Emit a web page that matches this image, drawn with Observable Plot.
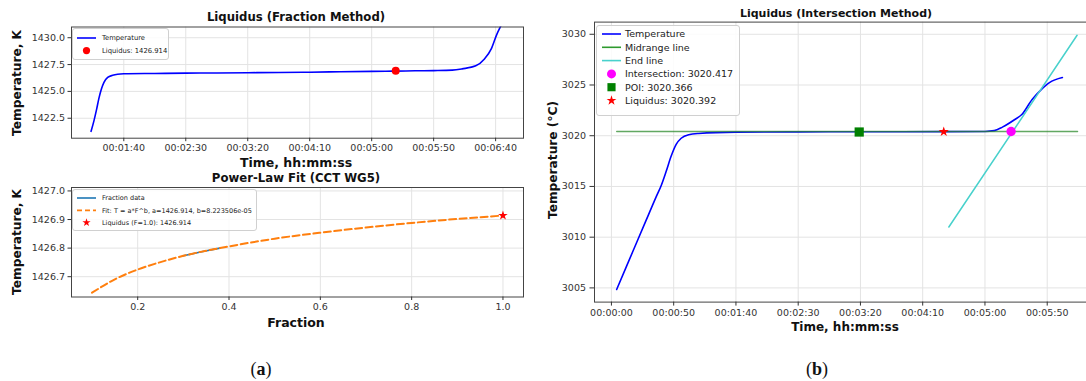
<!DOCTYPE html>
<html><head><meta charset="utf-8">
<script src="https://cdn.jsdelivr.net/npm/d3@7"></script>
<script src="https://cdn.jsdelivr.net/npm/@observablehq/plot@0.6"></script>
<style>
html,body{margin:0;padding:0;background:#fff;}
#wrap{position:relative;width:1086px;height:381px;overflow:hidden;font-family:"DejaVu Sans",sans-serif;color:#111;}
.abs{position:absolute;}
.title{font-weight:bold;white-space:nowrap;transform:translate(-50%,-50%);}
.xlab{font-weight:bold;white-space:nowrap;transform:translate(-50%,-50%);}
.ylab{font-weight:bold;white-space:nowrap;transform:translate(-50%,-50%) rotate(-90deg);}
.legend{background:rgba(255,255,255,0.85);border:1px solid #d0d0d0;border-radius:3px;box-sizing:border-box;}
.cap{font-family:"Liberation Serif","DejaVu Serif",serif;font-size:18px;transform:translate(-50%,-50%);}
.cap b{font-weight:bold;}
</style></head>
<body><div id="wrap"></div>
<script>
// ---------- Panel (a) top: Liquidus (Fraction Method) ----------
const a1Time = [73.6, 76, 78, 80, 82, 84, 87, 91, 95, 100, 125, 150, 175, 200, 225, 250, 275, 300, 319.4, 335, 350, 365, 373, 384, 391, 396.6, 400.8, 404.1, 406];
const a1Temp = [1421.28, 1422.3, 1423.3, 1424.4, 1425.25, 1425.85, 1426.3, 1426.5, 1426.6, 1426.64, 1426.67, 1426.7, 1426.72, 1426.74, 1426.76, 1426.79, 1426.83, 1426.87, 1426.89, 1426.92, 1426.94, 1426.98, 1427.1, 1427.38, 1428.02, 1428.98, 1430.27, 1431.07, 1431.5];
const a1LiqTime = [319.4];
const a1LiqTemp = [1426.914];
const a1XTicks = [100, 150, 200, 250, 300, 350, 400];
const a1YTicks = [1422.5, 1425.0, 1427.5, 1430.0];

// ---------- Panel (a) bottom: Power-Law Fit (CCT WG5) ----------
const a2DataFrac = [0.30, 0.34, 0.38];
const a2DataTemp = [1426.773, 1426.787, 1426.800];
const a2FitFrac = [0.10, 0.15, 0.20, 0.25, 0.30, 0.35, 0.40, 0.50, 0.60, 0.70, 0.80, 0.90, 1.00];
const a2FitTemp = [1426.644, 1426.691, 1426.725, 1426.751, 1426.773, 1426.791, 1426.806, 1426.833, 1426.854, 1426.872, 1426.888, 1426.902, 1426.914];
const a2LiqFrac = [1.0];
const a2LiqTemp = [1426.914];
const a2XTicks = [0.2, 0.4, 0.6, 0.8, 1.0];
const a2YTicks = [1426.7, 1426.8, 1426.9, 1427.0];

// ---------- Panel (b): Liquidus (Intersection Method) ----------
const bTime = [4.2, 12, 20, 28, 36, 40, 44, 48, 52, 56, 62, 70, 100, 150, 200, 267, 300, 307.5, 314, 324, 329.6, 337.9, 344.8, 351.8, 362.2];
const bTemp = [3004.84, 3007.1, 3009.4, 3011.7, 3014.0, 3015.1, 3016.5, 3018.0, 3019.15, 3019.75, 3020.1, 3020.22, 3020.35, 3020.38, 3020.39, 3020.40, 3020.42, 3020.5, 3020.85, 3021.6, 3022.09, 3023.58, 3024.5, 3025.23, 3025.73];
const bMidTime = [4.2, 374.4];
const bMidTemp = [3020.417, 3020.417];
const bEndTime = [271, 374];
const bEndTemp = [3011.0, 3029.9];
const bIntersect = {t: [321.0], T: [3020.417]};
const bPOI = {t: [199], T: [3020.366]};
const bLiq = {t: [266.9], T: [3020.392]};
const bXTicks = [0, 50, 100, 150, 200, 250, 300, 350];
const bYTicks = [3005, 3010, 3015, 3020, 3025, 3030];

const zip = (xs, ys) => xs.map((x, i) => ({x, y: ys[i]}));
const hms = s => { s = Math.round(s); const h = Math.floor(s / 3600), m = Math.floor((s % 3600) / 60), ss = s % 60; return [h, m, ss].map(v => String(v).padStart(2, "0")).join(":"); };

const wrap = document.getElementById("wrap");
function place(el, left, top) { el.style.position = "absolute"; el.style.left = left + "px"; el.style.top = top + "px"; wrap.appendChild(el); return el; }
function text(cls, str, x, y, size) { const d = document.createElement("div"); d.className = "abs " + cls; d.textContent = str; d.style.left = x + "px"; d.style.top = y + "px"; d.style.fontSize = size + "px"; wrap.appendChild(d); return d; }

const baseStyle = {fontFamily: "DejaVu Sans", fontSize: "9.5px", color: "#222", background: "transparent", overflow: "visible"};
const gridColor = "#e3e3e3";

// Panel a1
const a1 = Plot.plot({
  width: 540, height: 170, marginLeft: 71, marginRight: 17, marginTop: 26.5, marginBottom: 32.3,
  style: baseStyle,
  x: {domain: [57.8, 422.5]}, y: {domain: [1420.64, 1431.0]},
  marks: [
    Plot.gridX(a1XTicks, {stroke: gridColor, strokeOpacity: 1}),
    Plot.gridY(a1YTicks, {stroke: gridColor, strokeOpacity: 1}),
    Plot.line(zip(a1Time, a1Temp), {x: "x", y: "y", stroke: "#0000ff", strokeWidth: 1.6, curve: "monotone-x", clip: true}),
    Plot.dot(zip(a1LiqTime, a1LiqTemp), {x: "x", y: "y", r: 4, fill: "red", stroke: "none"}),
    Plot.frame({stroke: "#444"}),
    Plot.axisX(a1XTicks, {tickFormat: hms, tickSize: 3.5, tickPadding: 3, label: null, color: "#333"}),
    Plot.axisY(a1YTicks, {tickFormat: d3.format(".1f"), tickSize: 3.5, tickPadding: 3, label: null, color: "#333"})
  ]
});
place(a1, 0, 0);

// Panel a2
const a2 = Plot.plot({
  width: 540, height: 170, marginLeft: 71, marginRight: 17, marginTop: 22, marginBottom: 38.5,
  style: baseStyle,
  x: {domain: [0.055, 1.045]}, y: {domain: [1426.629, 1427.012]},
  marks: [
    Plot.gridX(a2XTicks, {stroke: gridColor, strokeOpacity: 1}),
    Plot.gridY(a2YTicks, {stroke: gridColor, strokeOpacity: 1}),
    Plot.line(zip(a2DataFrac, a2DataTemp), {x: "x", y: "y", stroke: "#1f77b4", strokeWidth: 1.6, clip: true}),
    Plot.line(zip(a2FitFrac, a2FitTemp), {x: "x", y: "y", stroke: "#ff7f0e", strokeWidth: 2, strokeDasharray: "7,3.5", curve: "monotone-x", clip: true}),
    Plot.dot(zip(a2LiqFrac, a2LiqTemp), {x: "x", y: "y", symbol: "star", r: 3.0, fill: "red", stroke: "none"}),
    Plot.frame({stroke: "#444"}),
    Plot.axisX(a2XTicks, {tickFormat: d3.format(".1f"), tickSize: 3.5, tickPadding: 3, label: null, color: "#333"}),
    Plot.axisY(a2YTicks, {tickFormat: d3.format(".1f"), tickSize: 3.5, tickPadding: 3, label: null, color: "#333"})
  ]
});
place(a2, 0, 165);

// Panel b
const b = Plot.plot({
  width: 570, height: 340, marginLeft: 54, marginRight: 11, marginTop: 21.6, marginBottom: 38.4,
  style: baseStyle,
  x: {domain: [-13.6, 392]}, y: {domain: [3003.6, 3031.2]},
  marks: [
    Plot.gridX(bXTicks, {stroke: gridColor, strokeOpacity: 1}),
    Plot.gridY(bYTicks, {stroke: gridColor, strokeOpacity: 1}),
    Plot.line(zip(bTime, bTemp), {x: "x", y: "y", stroke: "#0000ff", strokeWidth: 1.6, curve: "monotone-x", clip: true}),
    Plot.line(zip(bMidTime, bMidTemp), {x: "x", y: "y", stroke: "#2e8b2e", strokeWidth: 1.3, strokeOpacity: 0.75}),
    Plot.line(zip(bEndTime, bEndTemp), {x: "x", y: "y", stroke: "#48d1cc", strokeWidth: 1.5}),
    Plot.dot(zip(bIntersect.t, bIntersect.T), {x: "x", y: "y", r: 4.7, fill: "#ff00ff", stroke: "none"}),
    Plot.dot(zip(bPOI.t, bPOI.T), {x: "x", y: "y", symbol: "square", r: 5.2, fill: "#008000", stroke: "none"}),
    Plot.dot(zip(bLiq.t, bLiq.T), {x: "x", y: "y", symbol: "star", r: 3.2, fill: "red", stroke: "none"}),
    Plot.frame({stroke: "#444"}),
    Plot.axisX(bXTicks, {tickFormat: hms, tickSize: 4, tickPadding: 3, label: null, color: "#333"}),
    Plot.axisY(bYTicks, {tickFormat: d3.format("d"), tickSize: 4.5, tickPadding: 4, label: null, color: "#333"})
  ]
});
place(b, 540, 0);

// Titles and axis labels
text("title", "Liquidus (Fraction Method)", 296, 17, 11.7);
text("ylab", "Temperature, K", 17, 83, 12.2);
text("xlab", "Time, hh:mm:ss", 296, 162, 12.5);
text("title", "Power-Law Fit (CCT WG5)", 296, 178, 11.7);
text("ylab", "Temperature, K", 17, 242, 12.2);
text("xlab", "Fraction", 296, 322, 12.5);
text("title", "Liquidus (Intersection Method)", 836, 13, 11);
text("ylab", "Temperature (°C)", 553, 160, 12.2);
text("xlab", "Time, hh:mm:ss", 845, 327, 12);

// Legends (HTML)
function legend(left, top, w, h, items, fontSize, rowH, firstY, swX, swW, txtX) {
  const box = document.createElement("div");
  box.className = "abs legend";
  Object.assign(box.style, {left: left + "px", top: top + "px", width: w + "px", height: h + "px"});
  wrap.appendChild(box);
  const ns = "http://www.w3.org/2000/svg";
  const svg = document.createElementNS(ns, "svg");
  svg.setAttribute("width", w); svg.setAttribute("height", h);
  svg.style.position = "absolute"; svg.style.left = "0"; svg.style.top = "0";
  box.appendChild(svg);
  items.forEach((it, i) => {
    const cy = firstY + i * rowH;
    if (it.kind === "line") {
      const l = document.createElementNS(ns, "line");
      l.setAttribute("x1", swX); l.setAttribute("x2", swX + swW); l.setAttribute("y1", cy); l.setAttribute("y2", cy);
      l.setAttribute("stroke", it.color); l.setAttribute("stroke-width", it.width || 1.6);
      if (it.dash) l.setAttribute("stroke-dasharray", it.dash);
      svg.appendChild(l);
    } else {
      const p = document.createElementNS(ns, "path");
      const sym = it.kind === "star" ? d3.symbolStar : it.kind === "square" ? d3.symbolSquare : d3.symbolCircle;
      p.setAttribute("d", d3.symbol(sym, Math.PI * it.r * it.r)());
      p.setAttribute("transform", `translate(${swX + swW / 2},${cy})`);
      p.setAttribute("fill", it.color);
      svg.appendChild(p);
    }
    const t = document.createElementNS(ns, "text");
    t.setAttribute("x", txtX); t.setAttribute("y", cy); t.setAttribute("dy", "0.35em");
    t.setAttribute("font-size", fontSize); t.setAttribute("font-family", "DejaVu Sans"); t.setAttribute("fill", "#222");
    t.textContent = it.label;
    svg.appendChild(t);
  });
}
legend(72, 28, 97, 32, [
  {kind: "line", color: "#0000ff", label: "Temperature"},
  {kind: "dot", color: "red", r: 3.6, label: "Liquidus: 1426.914"}
], 6.8, 12.6, 9, 4, 19, 29);
legend(71.5, 188.5, 185, 42, [
  {kind: "line", color: "#1f77b4", label: "Fraction data"},
  {kind: "line", color: "#ff7f0e", width: 1.8, dash: "5,3", label: "Fit: T = a*F^b, a=1426.914, b=8.223506e-05"},
  {kind: "star", color: "red", r: 2.6, label: "Liquidus (F=1.0): 1426.914"}
], 6.5, 12.3, 8, 4, 19, 29);
legend(595.5, 24.5, 144, 91, [
  {kind: "line", color: "#0000ff", label: "Temperature"},
  {kind: "line", color: "#2e9a2e", label: "Midrange line"},
  {kind: "line", color: "#48d1cc", label: "End line"},
  {kind: "circle", color: "#ff00ff", r: 4.5, label: "Intersection: 3020.417"},
  {kind: "square", color: "#008000", r: 4.6, label: "POI: 3020.366"},
  {kind: "star", color: "red", r: 3.1, label: "Liquidus: 3020.392"}
], 9.5, 13.3, 8, 5, 19, 28);

// Captions
const ca = text("cap", "", 261, 369, 18); ca.innerHTML = "(<b>a</b>)";
const cb = text("cap", "", 817, 369, 18); cb.innerHTML = "(<b>b</b>)";
</script>
</body></html>
